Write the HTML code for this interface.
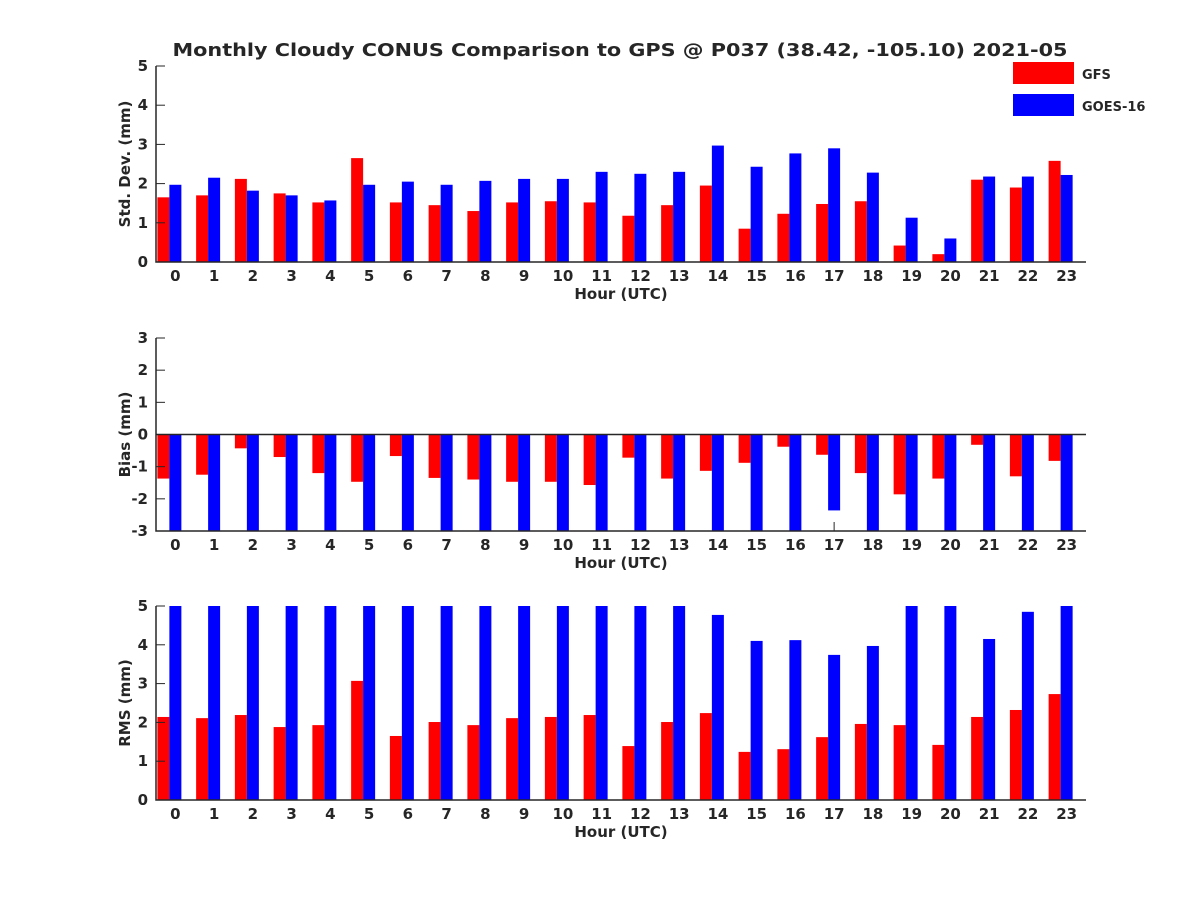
<!DOCTYPE html>
<html><head><meta charset="utf-8"><style>
body{margin:0;background:#fff;}
svg text{font-family:"DejaVu Sans","Liberation Sans",sans-serif;font-weight:bold;fill:#262626;}
</style></head><body>
<svg id="c" width="1200" height="900" xmlns="http://www.w3.org/2000/svg">
<rect width="1200" height="900" fill="#fff"/>
<text x="620" y="56" font-size="18" text-anchor="middle" textLength="895" lengthAdjust="spacingAndGlyphs">Monthly Cloudy CONUS Comparison to GPS @ P037 (38.42, -105.10) 2021-05</text>
<g>
<rect x="1013" y="62" width="61" height="22" fill="#ff0000"/>
<text x="1082" y="79" font-size="13">GFS</text>
<rect x="1013" y="94" width="61" height="22" fill="#0000ff"/>
<text x="1082" y="111" font-size="13">GOES-16</text>
</g>
</svg>
<script>
const hours=[0,1,2,3,4,5,6,7,8,9,10,11,12,13,14,15,16,17,18,19,20,21,22,23];
const stdGFS=[1.65,1.7,2.12,1.75,1.52,2.65,1.52,1.45,1.3,1.52,1.55,1.52,1.18,1.45,1.95,0.85,1.23,1.48,1.55,0.42,0.2,2.1,1.9,2.58];
const stdGOES=[1.97,2.15,1.82,1.7,1.57,1.97,2.05,1.97,2.07,2.12,2.12,2.3,2.25,2.3,2.97,2.43,2.77,2.9,2.28,1.13,0.6,2.18,2.18,2.22];
const biasGFS=[-1.37,-1.25,-0.43,-0.7,-1.2,-1.47,-0.67,-1.35,-1.4,-1.47,-1.47,-1.57,-0.72,-1.37,-1.13,-0.88,-0.38,-0.63,-1.2,-1.86,-1.37,-0.32,-1.3,-0.82];
const biasGOES=[-5,-5,-5,-5,-5,-5,-5,-5,-5,-5,-5,-5,-5,-5,-5,-5,-5,-2.36,-5,-5,-5,-5,-5,-5];
const rmsGFS=[2.14,2.11,2.19,1.88,1.93,3.07,1.65,2.01,1.93,2.11,2.14,2.19,1.39,2.01,2.24,1.24,1.31,1.62,1.96,1.93,1.42,2.14,2.32,2.73];
const rmsGOES=[5,5,5,5,5,5,5,5,5,5,5,5,5,5,4.77,4.1,4.12,3.74,3.97,5,5,4.15,4.85,5];
const stdTicks=[0,1,2,3,4,5];
const biasTicks=[-3,-2,-1,0,1,2,3];
const rmsTicks=[0,1,2,3,4,5];
const svg=document.getElementById('c');
const NS='http://www.w3.org/2000/svg';
function mk(t,a,p){const e=document.createElementNS(NS,t);for(const k in a)e.setAttribute(k,a[k]);(p||svg).appendChild(e);return e;}
const L=156,R=1086;
const xs=h=>L+(h+0.5)*(R-L)/24;
function panel(name,top,bot,ymin,ymax,ticks,ylabel,s1,s2,zero){
  const g=mk('g',{});
  
  
  const ys=v=>bot-(Math.max(ymin,Math.min(ymax,v))-ymin)/(ymax-ymin)*(bot-top);
  const base=zero?ys(0):bot;
  hours.forEach(h=>{
    mk('line',{x1:xs(h),x2:xs(h),y1:bot,y2:bot-9,stroke:'#262626','stroke-width':1},g);
  });
  hours.forEach((h,i)=>{
    const y1=ys(s1[i]);
    const r=mk('rect',{x:xs(h)-18,y:Math.min(y1,base),width:12,height:Math.abs(base-y1),fill:'#ff0000'},g);
    
    
    const y2=ys(s2[i]);
    const b=mk('rect',{x:xs(h)-6,y:Math.min(y2,base),width:12,height:Math.abs(base-y2),fill:'#0000ff'},g);
    
    
    const t=mk('text',{x:xs(h),y:bot+19,'font-size':15,'text-anchor':'middle'},g);
    t.textContent=h;
    
    
  });
  ticks.forEach(v=>{
    const y=ys(v);
    mk('line',{x1:L,x2:L+9,y1:y,y2:y,stroke:'#262626'},g);
    const t=mk('text',{x:L-8,y:y+5,'font-size':15,'text-anchor':'end'},g);
    t.textContent=v;
    
    
  });
  if(zero) mk('line',{x1:L,x2:R,y1:ys(0),y2:ys(0),stroke:'#262626','stroke-width':1.5},g);
  mk('path',{d:`M${L},${top}V${bot}H${R}`,fill:'none',stroke:'#262626','stroke-width':1.5},g);
  const xl=mk('text',{x:621,y:bot+37,'font-size':15,'text-anchor':'middle'},g);
  xl.textContent='Hour (UTC)';
  
  
  const cy=(top+bot)/2;
  const yl=mk('text',{x:130,y:cy,'font-size':15,'text-anchor':'middle',transform:`rotate(-90 130 ${cy})`},g);
  yl.textContent=ylabel;
  
  
}
panel('std',66,262,0,5,stdTicks,'Std. Dev. (mm)',stdGFS,stdGOES,false);
panel('bias',338,531,-3,3,biasTicks,'Bias (mm)',biasGFS,biasGOES,true);
panel('rms',606,800,0,5,rmsTicks,'RMS (mm)',rmsGFS,rmsGOES,false);
</script>
</body></html>
